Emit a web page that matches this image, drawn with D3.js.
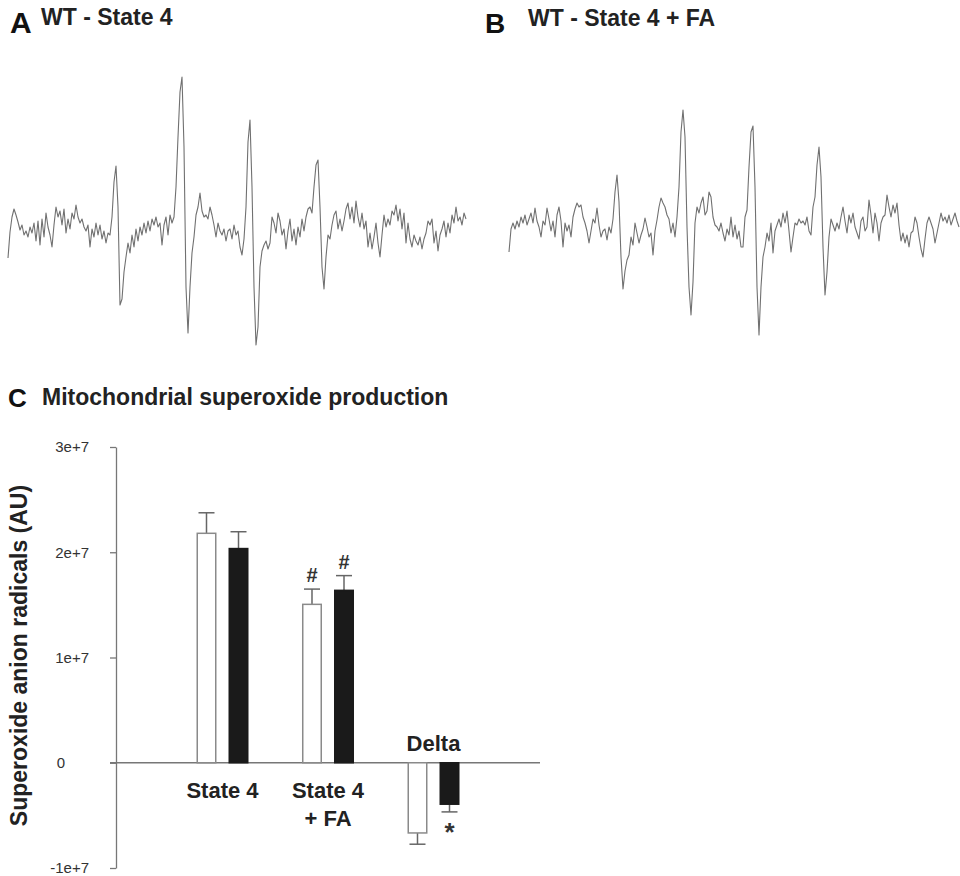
<!DOCTYPE html>
<html>
<head>
<meta charset="utf-8">
<script src="https://cdn.jsdelivr.net/npm/d3@7"></script>
<style>
  html, body { margin: 0; padding: 0; background: #fff; }
  svg { display: block; }
  text { font-family: "Liberation Sans", Arial, sans-serif; }
</style>
</head>
<body>
<svg id="chart" width="960" height="876"></svg>
<script>
// ---------- Data ----------
// EPR spectrum, panel A (WT - State 4): signal amplitude (arbitrary units), equally spaced field points
const spectrumA = [
  -31,-5,10,18,12,5,-3,2,-8,-4,-10,0,-6,4,-14,6,-18,8,-10,14,
  0,-8,-20,2,20,10,16,2,18,-6,8,-2,14,8,22,10,4,8,0,-4,
  2,-20,-2,-10,4,-8,2,-12,-4,-16,-6,-8,10,45,61,20,-78,-72,-45,-30,
  -16,-26,-8,-20,-2,-14,0,-8,4,-6,6,-4,8,2,10,0,4,-18,2,10,
  -8,12,4,10,40,90,135,150,80,-60,-106,-60,-26,-10,12,20,34,16,10,12,
  8,20,12,2,-10,4,-4,-8,-2,-14,-4,-2,-12,2,-8,-4,-20,-28,-12,20,
  85,107,40,-60,-118,-100,-40,-24,-18,-14,-22,-16,10,4,-6,14,6,-8,-2,-22,
  -4,8,-14,-2,-18,0,-10,8,-4,10,18,20,14,40,62,67,20,-40,-62,-30,
  -8,-12,2,12,16,-2,8,-4,6,18,24,8,20,4,26,10,0,14,-2,6,
  -20,-6,-22,-10,4,-16,-30,-8,12,0,8,2,16,12,22,6,18,-2,14,-16,
  4,-12,-20,-8,-14,-18,-10,-22,-12,-6,6,2,8,-16,-4,-24,-8,-2,6,-10,
  4,-6,12,4,20,6,10,2,14,8
];
// EPR spectrum, panel B (WT - State 4 + FA)
const spectrumB = [
  -25,-2,4,-2,6,0,10,4,12,2,8,14,4,19,6,0,-10,6,2,19,
  8,-4,6,-10,12,20,6,-20,4,-4,2,-10,10,18,24,20,22,10,4,-4,
  -16,-4,8,4,19,2,-10,-4,-2,-13,0,-6,8,35,52,25,-30,-62,-44,-33,
  -28,-10,-18,4,-6,-16,-8,-2,9,0,-10,-6,-28,-4,7,20,29,24,20,12,
  8,-6,4,-10,10,40,95,117,90,0,-60,-88,-55,4,20,14,24,30,12,16,
  35,30,10,2,0,-4,4,-6,-14,-2,-8,10,-10,2,-12,-4,-20,-20,10,17,
  60,95,101,40,-60,-108,-60,-30,-20,-6,-14,4,-26,-4,2,8,0,14,4,16,
  -4,-25,-10,4,2,8,4,6,2,10,-4,-8,20,30,62,80,50,-20,-68,-45,
  -10,8,2,-4,4,-2,10,20,6,-6,12,4,14,0,-6,-12,6,10,-4,0,
  27,12,-6,14,4,-14,4,10,12,32,20,10,22,14,24,2,-14,-6,-16,-8,
  -20,-6,-4,10,4,-10,-22,-30,-12,4,10,4,-2,-16,-6,4,14,6,10,4,
  12,2,8,14,6,0
];

// Panel C: mitochondrial superoxide production
const categories = ["State 4", "State 4\n+ FA", "Delta"];
const seriesNames = ["open", "filled"];
const openMeans   = [2.18e7, 1.505e7, -0.667e7];
const openSE      = [0.195e7, 0.145e7, 0.107e7];
const filledMeans = [2.035e7, 1.638e7, -0.394e7];
const filledSE    = [0.16e7, 0.14e7, 0.073e7];
const openMarks   = ["", "#", ""];
const filledMarks = ["", "#", "*"];
const yTickValues = [-1e7, 0, 1e7, 2e7, 3e7];
const yTickLabels = ["-1e+7", "0", "1e+7", "2e+7", "3e+7"];

// ---------- Drawing ----------
const svg = d3.select("#chart");
const textColor = "#222";

// Panel headings
function heading(letter, lx, ly, lsize, title, tx, ty, tsize) {
  svg.append("text").attr("x", lx).attr("y", ly).style("font-size", lsize + "px")
     .attr("font-weight", "bold").attr("fill", "#111").text(letter);
  svg.append("text").attr("x", tx).attr("y", ty).style("font-size", tsize + "px")
     .attr("font-weight", "bold").attr("fill", textColor).text(title);
}
heading("A", 10, 33, 30, "WT - State 4", 41, 25, 23);
heading("B", 485, 33, 28, "WT - State 4 + FA", 528, 26, 23);
heading("C", 8, 407, 26, "Mitochondrial superoxide production", 42, 405, 23);

// Spectra
function drawSpectrum(values, x0, x1) {
  const x = d3.scaleLinear().domain([0, values.length - 1]).range([x0, x1]);
  const y = d3.scaleLinear().domain([-150, 150]).range([377, 77]);
  const line = d3.line().x((d, i) => x(i)).y(d => y(d)).curve(d3.curveLinear);
  svg.append("path").datum(values).attr("d", line)
     .attr("fill", "none").attr("stroke", "#707070").attr("stroke-width", 1.1)
     .attr("stroke-linejoin", "round");
}
drawSpectrum(spectrumA, 8, 466);
drawSpectrum(spectrumB, 509, 959);

// Bar chart
const axisX = 116;
const y = d3.scaleLinear().domain([-1e7, 3e7]).range([868, 447]);
const xGroup = d3.scaleBand().domain(categories).range([axisX, 540])
  .paddingInner(0.507).paddingOuter(0.763);
const xSeries = d3.scaleBand().domain(seriesNames).range([0, xGroup.bandwidth()])
  .paddingInner(0.375);

const axisColor = "#777";
const yAxis = d3.axisLeft(y).tickValues(yTickValues)
  .tickFormat((d, i) => yTickLabels[i]).tickSize(6).tickSizeOuter(0).tickPadding(21);
const gAxis = svg.append("g").attr("transform", `translate(${axisX},0)`).call(yAxis);
gAxis.attr("font-size", null).attr("font-family", null);
gAxis.select(".domain").attr("stroke", axisColor).attr("stroke-width", 1.3);
gAxis.selectAll(".tick line").attr("stroke", axisColor).attr("stroke-width", 1.3);
gAxis.selectAll(".tick text").style("font-size", "15px").attr("fill", "#333")
  .style("font-family", "'Liberation Sans', Arial, sans-serif");
gAxis.selectAll(".tick text").filter(d => d === 0)
  .attr("x", -55).attr("text-anchor", "middle");

// zero line
svg.append("line").attr("x1", axisX - 6).attr("x2", 540)
  .attr("y1", y(0)).attr("y2", y(0)).attr("stroke", axisColor).attr("stroke-width", 1.3);

// y label
svg.append("text").attr("transform", `translate(27,${(447 + 868) / 2 - 2}) rotate(-90)`)
  .attr("text-anchor", "middle").style("font-size", "23px").attr("font-weight", "bold")
  .attr("fill", textColor).text("Superoxide anion radicals (AU)");

const seriesData = [
  { name: "open", means: openMeans, se: openSE, marks: openMarks, fill: "#fff", stroke: "#8a8a8a" },
  { name: "filled", means: filledMeans, se: filledSE, marks: filledMarks, fill: "#1a1a1a", stroke: "#1a1a1a" }
];

seriesData.forEach(s => {
  categories.forEach((c, i) => {
    const v = s.means[i], e = s.se[i];
    const bx = xGroup(c) + xSeries(s.name);
    const bw = xSeries.bandwidth();
    const cx = bx + bw / 2;
    const ends = v >= 0 ? v + e : v - e;
    // error bar
    svg.append("line").attr("x1", cx).attr("x2", cx)
      .attr("y1", y(v)).attr("y2", y(ends)).attr("stroke", "#666").attr("stroke-width", 1.5);
    svg.append("line").attr("x1", cx - 8).attr("x2", cx + 8)
      .attr("y1", y(ends)).attr("y2", y(ends)).attr("stroke", "#666").attr("stroke-width", 1.5);
    // bar
    svg.append("rect").attr("x", bx + 0.75).attr("width", bw - 1.5)
      .attr("y", Math.min(y(v), y(0))).attr("height", Math.abs(y(v) - y(0)))
      .attr("fill", s.fill).attr("stroke", s.stroke).attr("stroke-width", 1.5);
    // significance marks
    const m = s.marks[i];
    if (m === "#") {
      svg.append("text").attr("x", cx).attr("y", y(ends) - 7).attr("text-anchor", "middle")
        .style("font-size", "20px").attr("font-weight", "bold").attr("fill", "#333").text(m);
    } else if (m === "*") {
      svg.append("text").attr("x", cx).attr("y", y(ends) + 29).attr("text-anchor", "middle")
        .style("font-size", "26px").attr("font-weight", "bold").attr("fill", "#333").text(m);
    }
  });
});

// category labels
categories.forEach((c, i) => {
  const lines = c.split("\n");
  const cx = xGroup(c) + xGroup.bandwidth() / 2;
  const negative = openMeans[i] < 0 && filledMeans[i] < 0;
  const t = svg.append("text").attr("text-anchor", "middle").style("font-size", "22px")
    .attr("font-weight", "bold").attr("fill", textColor);
  lines.forEach((ln, k) => {
    t.append("tspan").attr("x", cx)
      .attr("y", negative ? y(0) - 12 : y(0) + 35 + k * 28).text(ln);
  });
});
</script>
</body>
</html>
